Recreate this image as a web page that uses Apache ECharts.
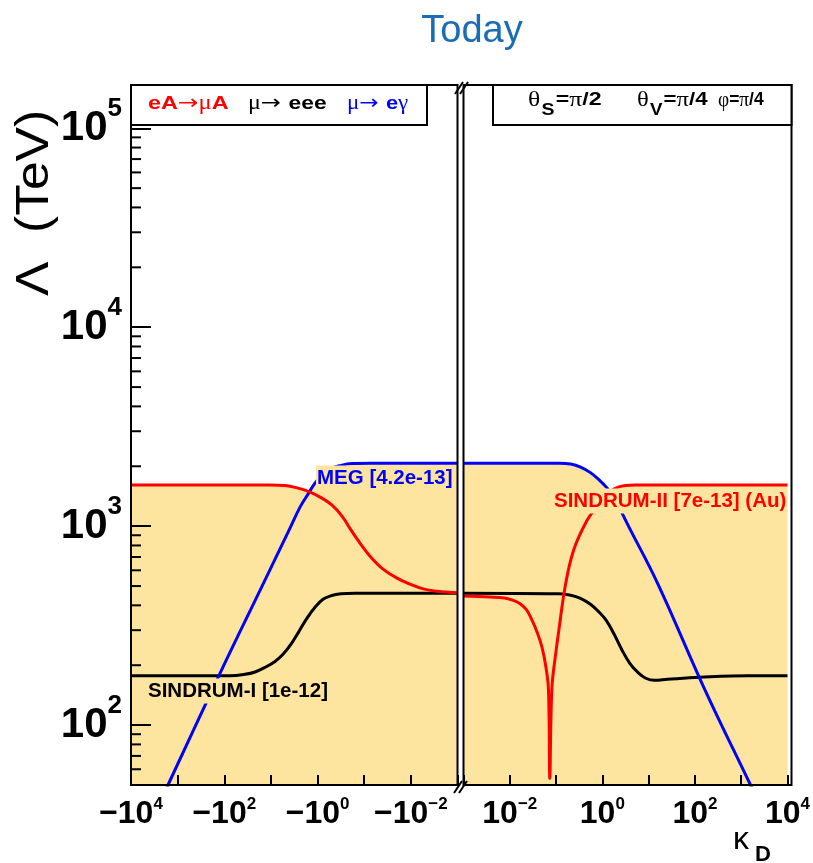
<!DOCTYPE html>
<html>
<head>
<meta charset="utf-8">
<title>Today</title>
<script src="https://cdn.jsdelivr.net/npm/echarts@6/dist/echarts.min.js"></script>
<style>
  html, body { margin: 0; padding: 0; background: #fff; }
  #chart { width: 813px; height: 863px; }
</style>
</head>
<body>
<div id="chart"></div>
<script>
// ============================================================
// 数据：横坐标存 log10|κ_D|，纵坐标为 Λ (TeV)
// ============================================================

// eA→μA  SINDRUM-II（红）
var redNegExp = [4, 1.02, 0.698, 0.419, 0.162, -0.074, -0.31, -0.524, -0.717, -0.91, -1.124, -1.403, -1.703, -1.982, -2.261, -2.561, -3];
var redNegVal = [1608, 1608, 1600, 1553, 1483, 1391, 1276, 1123, 955, 821, 706, 608, 548, 511, 484, 471, 463];
var redPosExp = [-3, -2.434, -2.114, -1.943, -1.794, -1.645, -1.517, -1.41, -1.303, -1.218, -1.164, -1.135, -1.111, -1.083, -1.026, -0.94, -0.791, -0.621, -0.364, -0.129, 0.127, 0.34, 0.703, 1.2, 4];
var redPosVal = [445, 440, 435, 425, 410, 382, 336, 293, 246, 195, 150, 54, 106, 162, 212, 300, 516, 757, 1035, 1247, 1466, 1571, 1608, 1608, 1608];

// μ→eγ  MEG（蓝）
var blueNegExp = [3.6, 3.207, 2.092, 1.2, 0.591, 0.376, 0.205, 0.055, -0.095, -0.267, -0.481, -0.738, -1.124, -3];
var blueNegVal = [32, 50, 182, 494, 977, 1247, 1449, 1646, 1806, 1936, 2015, 2064, 2070, 2070];
var bluePosExp = [-3, -0.94, -0.684, -0.471, -0.257, -0.065, 0.106, 0.234, 0.34, 0.554, 1.194, 2.219, 3.201, 3.6];
var bluePosVal = [2070, 2070, 2051, 1982, 1858, 1704, 1553, 1416, 1276, 1012, 516, 150, 50, 32];

// μ→eee  SINDRUM-I（黑）
var blackNegExp = [4, 1.877, 1.556, 1.341, 1.127, 0.912, 0.741, 0.569, 0.398, 0.226, 0.055, -0.117, -0.288, -0.503, -0.803, -3];
var blackNegVal = [177, 177, 180, 185, 195, 209, 227, 255, 296, 345, 391, 429, 447, 457, 460, 460];
var blackPosExp = [-3, -0.94, -0.684, -0.471, -0.257, -0.087, 0.084, 0.255, 0.426, 0.597, 0.768, 0.938, 1.131, 1.408, 2.112, 3.169, 4];
var blackPosVal = [460, 457, 450, 434, 405, 373, 336, 286, 238, 204, 184, 172, 168, 170, 174, 177, 177];

// 纵轴次刻度
var yMinorTicks = [60, 70, 80, 90, 200, 300, 400, 500, 600, 700, 800, 900,
                   2000, 3000, 4000, 5000, 6000, 7000, 8000, 9000,
                   20000, 30000, 40000, 50000, 60000, 70000, 80000, 90000];

var FILL = '#fde59f';
var FONT = 'Liberation Sans';
var GREEK = 'Liberation Serif';
var RED = '#ff0000', BLUE = '#0000ff', BLACK = '#000000';

// ============================================================
// 工具函数
// ============================================================
function toPoints(exps, vals) {
    return exps.map(function(e, i) { return [Math.pow(10, e), vals[i]]; });
}

function areaSeries(exps, vals, grid) {
    return {
        type: 'line', xAxisIndex: grid, yAxisIndex: grid,
        data: toPoints(exps, vals), smooth: 0.4, showSymbol: false, silent: true,
        lineStyle: { width: 0, opacity: 0 },
        areaStyle: { color: FILL, opacity: 1, origin: 'start' },
        z: 1
    };
}

function lineSeries(exps, vals, grid, color, z) {
    return {
        type: 'line', xAxisIndex: grid, yAxisIndex: grid,
        data: toPoints(exps, vals), smooth: 0.4, showSymbol: false, silent: true,
        lineStyle: { color: color, width: 3 },
        z: z
    };
}

function xLabel(prefix) {
    return function(v) {
        var lg = Math.log10(v);
        var e = Math.round(lg);
        if (Math.abs(lg - e) > 1e-6 || e % 2 !== 0) return '';
        var sup = e < 0 ? '\u2212' + (-e) : String(e);
        return '{m|' + prefix + '10}{s|' + sup + '}';
    };
}

var xRich = {
    m: { fontSize: 32, fontWeight: 'bold', fontFamily: FONT, color: '#000', lineHeight: 32 },
    s: { fontSize: 17, fontWeight: 'bold', fontFamily: FONT, color: '#000', lineHeight: 17, padding: [0, 0, 20, 0] }
};

function makeXAxis(grid, inverse, prefix) {
    return {
        type: 'log', logBase: 10, gridIndex: grid, min: 1e-3, max: 1e4, inverse: inverse,
        axisLine: { show: false }, splitLine: { show: false },
        axisTick: { inside: true, length: 10, lineStyle: { color: '#000', width: 2 } },
        axisLabel: { margin: 13, formatter: xLabel(prefix), rich: xRich, showMinLabel: true, showMaxLabel: true },
        z: 5
    };
}

function makeYAxis(grid, show) {
    return {
        type: 'log', logBase: 10, gridIndex: grid, min: 50, max: 165000, show: show,
        axisLine: { show: false }, splitLine: { show: false },
        axisTick: { inside: true, length: 20, lineStyle: { color: '#000', width: 2 } },
        axisLabel: {
            margin: 9,
            formatter: function(v) {
                var lg = Math.log10(v);
                var e = Math.round(lg);
                if (Math.abs(lg - e) > 1e-6) return '';
                return '{m|10}{s|' + e + '}';
            },
            rich: {
                m: { fontSize: 42, fontWeight: 'bold', fontFamily: FONT, color: '#000', lineHeight: 42 },
                s: { fontSize: 26, fontWeight: 'bold', fontFamily: FONT, color: '#000', lineHeight: 26, padding: [0, 0, 38, 0] }
            }
        },
        z: 5
    };
}

function txt(x, y, text, rich, extra, scaleX) {
    var el = {
        type: 'text', x: x, y: y, z: 80, scaleX: scaleX || 1,
        style: { text: text, rich: rich, align: 'left', verticalAlign: 'middle' }
    };
    if (extra) for (var k in extra) el.style[k] = extra[k];
    return el;
}

function seg(x1, y1, x2, y2) {
    return { type: 'line', z: 70, shape: { x1: x1, y1: y1, x2: x2, y2: y2 }, style: { stroke: '#000', lineWidth: 2 } };
}

// ============================================================
// 图表
// ============================================================
var chart = echarts.init(document.getElementById('chart'));

var series = [
    areaSeries(redNegExp, redNegVal, 0),
    areaSeries(blueNegExp, blueNegVal, 0),
    areaSeries(blackNegExp, blackNegVal, 0),
    areaSeries(redPosExp, redPosVal, 1),
    areaSeries(bluePosExp, bluePosVal, 1),
    areaSeries(blackPosExp, blackPosVal, 1),
    lineSeries(blackNegExp, blackNegVal, 0, BLACK, 3),
    lineSeries(blueNegExp, blueNegVal, 0, BLUE, 4),
    lineSeries(redNegExp, redNegVal, 0, RED, 5),
    lineSeries(blackPosExp, blackPosVal, 1, BLACK, 3),
    lineSeries(bluePosExp, bluePosVal, 1, BLUE, 4),
    lineSeries(redPosExp, redPosVal, 1, RED, 5),
    {
        // 纵轴次刻度（对数）
        type: 'custom', xAxisIndex: 0, yAxisIndex: 0, silent: true, z: 6,
        data: yMinorTicks.map(function(v) { return [1e4, v]; }),
        renderItem: function(params, api) {
            var p = api.coord([api.value(0), api.value(1)]);
            return {
                type: 'line',
                shape: { x1: p[0], y1: p[1], x2: p[0] + 10, y2: p[1] },
                style: { stroke: '#000', lineWidth: 2 }
            };
        }
    }
];

var legendRich = function(color) {
    return {
        b: { fontSize: 19, fontWeight: 'bold', fontFamily: FONT, fill: color },
        g: { fontSize: 20, fontFamily: GREEK, fill: color },
        a: { fontSize: 20, fontFamily: 'DejaVu Sans', fill: color }
    };
};

var thetaRich = {
    g: { fontSize: 21, fontFamily: GREEK, fill: '#000' },
    b: { fontSize: 19, fontWeight: 'bold', fontFamily: FONT, fill: '#000' },
    sub: { fontSize: 16, fontWeight: 'bold', fontFamily: FONT, fill: '#000', lineHeight: 16, padding: [22, 1, 0, 1] }
};

var labelStyle = function(color) {
    return { fontSize: 20.5, fontWeight: 'bold', fontFamily: FONT, fill: color, backgroundColor: FILL, padding: [2, 1] };
};

var option = {
    animation: false,
    backgroundColor: '#fff',
    grid: [
        { left: 131, right: 355.5, top: 85, bottom: 78, show: false },
        { left: 463.5, right: 21.5, top: 85, bottom: 78, show: false }
    ],
    xAxis: [makeXAxis(0, true, '\u2212'), makeXAxis(1, false, '')],
    yAxis: [makeYAxis(0, true), makeYAxis(1, false)],
    series: series,
    graphic: [
        // 外框（两块面板）
        { type: 'rect', z: 50, shape: { x: 131, y: 85, width: 326.5, height: 700 }, style: { fill: 'none', stroke: '#000', lineWidth: 2 } },
        { type: 'rect', z: 50, shape: { x: 463.5, y: 85, width: 328, height: 700 }, style: { fill: 'none', stroke: '#000', lineWidth: 2 } },
        // 断轴记号
        seg(455, 94, 463, 82), seg(460, 94, 468, 82),
        seg(454, 793, 462, 781), seg(459, 793, 467, 781),
        // 图例框
        { type: 'rect', z: 60, shape: { x: 131, y: 85, width: 296, height: 40 }, style: { fill: '#fff', stroke: '#000', lineWidth: 2 } },
        { type: 'rect', z: 60, shape: { x: 493, y: 85, width: 298.5, height: 40 }, style: { fill: '#fff', stroke: '#000', lineWidth: 2 } },
        txt(148, 104, '{b|eA}{a|\u2192}{g|\u03bc}{b|A}', legendRich(RED), null, 1.23),
        txt(248, 104, '{g|\u03bc}{a|\u2192 }{b|eee}', legendRich(BLACK), null, 1.2),
        txt(347, 104, '{g|\u03bc}{a|\u2192 }{b|e}{g|\u03b3}', legendRich(BLUE), null, 1.15),
        txt(528, 100, '{g|\u03b8}{sub|S}{b|=}{g|\u03c0}{b|/2}', thetaRich, null, 1.22),
        txt(637, 100, '{g|\u03b8}{sub|V}{b|=}{g|\u03c0}{b|/4}', thetaRich, null, 1.17),
        txt(718, 100, '{g|\u03c6}{b|=}{g|\u03c0}{b|/4}', thetaRich, null, 0.92),
        // 曲线标注
        txt(316, 478, 'MEG [4.2e-13]', null, labelStyle(BLUE)),
        txt(553, 501, 'SINDRUM-II [7e-13] (Au)', null, labelStyle(RED)),
        txt(147, 691, 'SINDRUM-I [1e-12]', null, labelStyle(BLACK)),
        // 标题与坐标轴名
        txt(472, 32, 'Today', null, { fontSize: 38, fontFamily: FONT, fill: '#1a6db5', align: 'center' }),
        {
            type: 'text', x: 35, y: 203, rotation: Math.PI / 2, scaleX: 1.12, z: 80,
            style: { text: '\u039b  (TeV)', fontSize: 46, fontFamily: FONT, fill: '#000', align: 'center', verticalAlign: 'middle' }
        },
        txt(733, 840, '\u03ba', null, { fontSize: 32, fontFamily: FONT, fill: '#000' }),
        txt(755, 855, 'D', null, { fontSize: 22, fontWeight: 'bold', fontFamily: FONT, fill: '#000' })
    ]
};

chart.setOption(option);
</script>
</body>
</html>
